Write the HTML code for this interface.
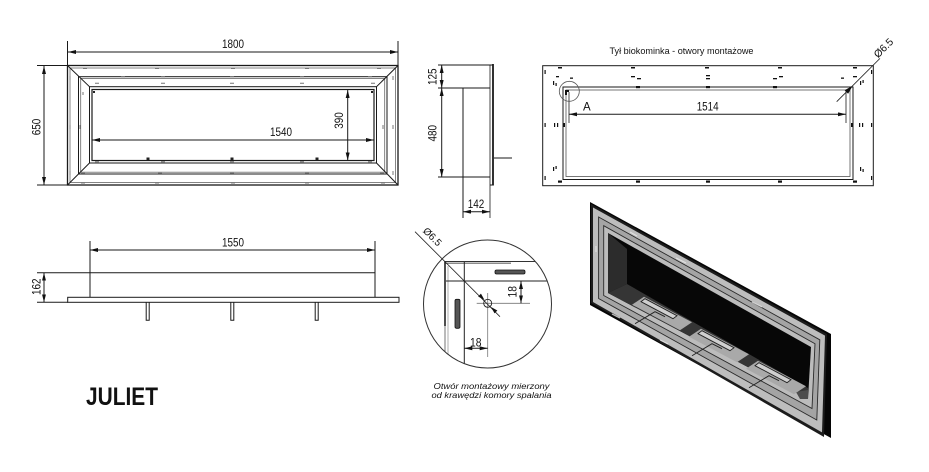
<!DOCTYPE html>
<html><head><meta charset="utf-8"><style>
html,body{margin:0;padding:0;background:#fff;}
svg{display:block;}
text{font-family:"Liberation Sans",sans-serif;fill:#111;}
</style></head><body>
<svg width="929" height="472" viewBox="0 0 929 472" xmlns="http://www.w3.org/2000/svg">
<defs>
<marker id="a" markerUnits="userSpaceOnUse" markerWidth="8" markerHeight="4" refX="8" refY="2" orient="auto-start-reverse" viewBox="0 0 8 4"><path d="M0,0L8,2L0,4z" fill="#111"/></marker>
<clipPath id="cc"><circle cx="487.5" cy="304" r="64"/></clipPath>
</defs>
<rect width="929" height="472" fill="#fff"/>

<!-- ===== FRONT VIEW ===== -->
<g stroke="#1a1a1a" fill="none" stroke-width="1">
 <line x1="67.5" y1="41" x2="67.5" y2="65"/>
 <line x1="398" y1="41" x2="398" y2="65"/>
 <line x1="68" y1="52" x2="398" y2="52" marker-start="url(#a)" marker-end="url(#a)"/>
 <line x1="37" y1="65.5" x2="68" y2="65.5"/>
 <line x1="37" y1="185" x2="68" y2="185"/>
 <line x1="44" y1="66" x2="44" y2="185" marker-start="url(#a)" marker-end="url(#a)"/>
 <rect x="67.5" y="65.5" width="330.5" height="119.5" stroke-width="1.3"/>
 <rect x="70" y="68" width="325.5" height="114.5" stroke="#666" stroke-width="0.8"/>
 <rect x="78.5" y="76.7" width="308.5" height="97.3"/>
 <rect x="80.7" y="78.5" width="304" height="93.7" stroke="#666" stroke-width="0.8"/>
 <rect x="89.5" y="86.7" width="287" height="76.3"/>
 <rect x="92" y="89.5" width="282" height="71" stroke-width="1.2"/>
 <line x1="67.5" y1="65.5" x2="89.5" y2="86.7"/>
 <line x1="398" y1="65.5" x2="376.5" y2="86.7"/>
 <line x1="67.5" y1="185" x2="89.5" y2="163"/>
 <line x1="398" y1="185" x2="376.5" y2="163"/>
 <line x1="347.7" y1="90" x2="347.7" y2="160.5" marker-start="url(#a)" marker-end="url(#a)"/>
 <line x1="92" y1="140" x2="374" y2="140" marker-start="url(#a)" marker-end="url(#a)"/>
</g>
<g stroke="#777" stroke-width="1">
 <path d="M83 68.5h4M155 68.5h4M231 68.5h4M305 68.5h4M377 68.5h4"/>
 <path d="M121 76.7h4M161 76.7h4M230 76.7h4M300 76.7h4M368 76.7h4"/>
 <path d="M95 83.3h4M161 83.3h4M230 83.3h4M300 83.3h4M371 83.3h4"/>
 <path d="M95 161.7h4M161 161.7h4M230 161.7h4M300 161.7h4M368 161.7h4"/>
 <path d="M81 173.3h4M158 173.3h4M230 173.3h4M305 173.3h4M380 173.3h4"/>
 <path d="M81 183h4M155 183h4M231 183h4M305 183h4M381 183h4"/>
 <path d="M70 76v4M70 125v4M70 171v4M80 125v4M83 92v3M383 125v4M393 125v4M393 76v4M393 171v4"/>
</g>
<g fill="#222"><rect x="146.5" y="157.5" width="3" height="2.5"/><rect x="230.5" y="157.5" width="3" height="2.5"/><rect x="315.5" y="157.5" width="3" height="2.5"/><rect x="93" y="91" width="2" height="2"/><rect x="371" y="91" width="2" height="2"/></g>
<text x="233" y="48" font-size="11.5" text-anchor="middle" textLength="22" lengthAdjust="spacingAndGlyphs">1800</text>
<text x="281" y="136" font-size="11.5" text-anchor="middle" textLength="22" lengthAdjust="spacingAndGlyphs">1540</text>
<text x="40.5" y="127" font-size="11.5" text-anchor="middle" transform="rotate(-90 40.5 127)" textLength="16.5" lengthAdjust="spacingAndGlyphs">650</text>
<text x="343" y="120.5" font-size="11.5" text-anchor="middle" transform="rotate(-90 343 120.5)" textLength="16.5" lengthAdjust="spacingAndGlyphs">390</text>

<!-- ===== SIDE VIEW ===== -->
<g stroke="#1a1a1a" fill="none" stroke-width="1">
 <line x1="438" y1="65" x2="493" y2="65"/>
 <line x1="438" y1="88" x2="490" y2="88"/>
 <line x1="438" y1="177" x2="490" y2="177"/>
 <line x1="441.7" y1="65" x2="441.7" y2="88" marker-start="url(#a)" marker-end="url(#a)"/>
 <line x1="441.7" y1="88" x2="441.7" y2="177" marker-start="url(#a)" marker-end="url(#a)"/>
 <line x1="463" y1="88" x2="463" y2="218"/>
 <line x1="490" y1="65" x2="490" y2="218" stroke-width="0.8"/>
 <line x1="493" y1="64" x2="493" y2="185.5" stroke-width="1.8"/>
 <line x1="490" y1="185" x2="493" y2="185"/>
 <line x1="494" y1="158" x2="512" y2="158"/>
 <line x1="463" y1="211.7" x2="490" y2="211.7" marker-start="url(#a)" marker-end="url(#a)"/>
</g>
<text x="436.5" y="76.7" font-size="11.5" text-anchor="middle" transform="rotate(-90 436.5 76.7)" textLength="16.5" lengthAdjust="spacingAndGlyphs">125</text>
<text x="436.5" y="133.3" font-size="11.5" text-anchor="middle" transform="rotate(-90 436.5 133.3)" textLength="16.5" lengthAdjust="spacingAndGlyphs">480</text>
<text x="476" y="208" font-size="11.5" text-anchor="middle" textLength="16.5" lengthAdjust="spacingAndGlyphs">142</text>

<!-- ===== REAR VIEW ===== -->
<text x="681.5" y="54" font-size="9" text-anchor="middle" textLength="144" lengthAdjust="spacingAndGlyphs">Tył biokominka - otwory montażowe</text>
<g stroke="#1a1a1a" fill="none" stroke-width="1">
 <rect x="542.7" y="65.7" width="330.6" height="120"/>
 <rect x="563" y="87" width="290" height="92.5"/>
 <rect x="566" y="90" width="284" height="86.5" stroke="#555" stroke-width="0.8"/>
 <line x1="569" y1="92" x2="569" y2="123" stroke-width="0.8"/>
 <line x1="846" y1="91" x2="846" y2="123" stroke-width="0.8"/>
 <line x1="569" y1="114.3" x2="846" y2="114.3" marker-start="url(#a)" marker-end="url(#a)"/>
 <circle cx="569.3" cy="91.3" r="10" stroke="#555" stroke-width="0.8"/>
 <line x1="836.7" y1="101.7" x2="880" y2="58.4" stroke-width="0.8"/>
</g>
<polygon points="852.7,85.7 848.1,93.8 844.6,90.3" fill="#111"/>
<g fill="#111">
 <rect x="558" y="67" width="4" height="1.5"/><rect x="631" y="67" width="4" height="1.5"/><rect x="705" y="67" width="4" height="1.5"/><rect x="778" y="67" width="4" height="1.5"/><rect x="853" y="67" width="4" height="1.5"/>
 <rect x="556" y="76" width="3" height="1.3"/><rect x="570" y="77.5" width="3" height="1.3"/><rect x="631" y="76" width="4" height="1.3"/><rect x="637" y="78" width="4" height="1.3"/><rect x="706" y="75" width="4" height="1.3"/><rect x="706" y="78" width="4" height="1.3"/><rect x="773" y="78" width="4" height="1.3"/><rect x="779" y="76" width="4" height="1.3"/><rect x="841" y="77.5" width="3" height="1.3"/><rect x="853" y="76" width="4" height="1.3"/>
 <rect x="636" y="86" width="4" height="2.2"/><rect x="706" y="86" width="4" height="2.2"/><rect x="773" y="86" width="4" height="2.2"/>
 <rect x="558" y="180.5" width="4" height="2.2"/><rect x="636" y="180.5" width="4" height="2.2"/><rect x="706" y="180.5" width="4" height="2.2"/><rect x="778" y="180.5" width="4" height="2.2"/><rect x="853" y="180.5" width="4" height="2.2"/>
 <rect x="544.5" y="70" width="1.2" height="4"/><rect x="544.5" y="123" width="1.2" height="4"/><rect x="544.5" y="176" width="1.2" height="4"/>
 <rect x="553" y="81" width="1.2" height="4"/><rect x="555.5" y="83" width="1.2" height="3"/><rect x="554" y="123" width="1.2" height="4"/><rect x="557" y="123" width="1.2" height="4"/><rect x="553" y="167" width="1.2" height="4"/><rect x="555.5" y="166" width="1.2" height="3"/>
 <rect x="871" y="70" width="1.2" height="4"/><rect x="871" y="123" width="1.2" height="4"/><rect x="871" y="176" width="1.2" height="4"/>
 <rect x="860" y="81" width="1.2" height="4"/><rect x="862.5" y="80" width="1.2" height="3"/><rect x="859" y="123" width="1.2" height="4"/><rect x="862" y="123" width="1.2" height="4"/><rect x="860" y="167" width="1.2" height="4"/><rect x="862.5" y="169" width="1.2" height="3"/>
 <rect x="563.5" y="123" width="1.5" height="4"/><rect x="851" y="123" width="1.5" height="4"/><rect x="565" y="90" width="4" height="2"/><rect x="565" y="90" width="2" height="5"/>
</g>
<text x="583" y="110.3" font-size="11.5">A</text>
<text x="707.7" y="110.5" font-size="11.5" text-anchor="middle" textLength="22" lengthAdjust="spacingAndGlyphs">1514</text>
<text x="886" y="50.5" font-size="10.5" text-anchor="middle" transform="rotate(-45 886 50.5)">Ø6.5</text>

<!-- ===== TOP VIEW ===== -->
<g stroke="#1a1a1a" fill="none" stroke-width="1">
 <line x1="90" y1="241" x2="90" y2="297"/>
 <line x1="375" y1="241" x2="375" y2="297"/>
 <line x1="90" y1="250" x2="375" y2="250" marker-start="url(#a)" marker-end="url(#a)"/>
 <line x1="37" y1="272.7" x2="375" y2="272.7"/>
 <line x1="37" y1="302.3" x2="68" y2="302.3"/>
 <line x1="44" y1="272.7" x2="44" y2="302.3" marker-start="url(#a)" marker-end="url(#a)"/>
 <rect x="67.7" y="297.3" width="331.3" height="5"/>
 <path d="M146.2 302.3v18h3v-18M230.8 302.3v18h3v-18M315.2 302.3v18h3v-18"/>
</g>
<text x="233" y="246.5" font-size="11.5" text-anchor="middle" textLength="22" lengthAdjust="spacingAndGlyphs">1550</text>
<text x="40.5" y="286.7" font-size="11.5" text-anchor="middle" transform="rotate(-90 40.5 286.7)" textLength="16.5" lengthAdjust="spacingAndGlyphs">162</text>

<!-- ===== DETAIL A ===== -->
<g clip-path="url(#cc)" fill="none">
 <line x1="444.5" y1="261.5" x2="552" y2="261.5" stroke="#333" stroke-width="1"/>
 <line x1="444.5" y1="263.2" x2="511" y2="263.2" stroke="#666" stroke-width="1.2"/>
 <line x1="445" y1="261.5" x2="445" y2="326" stroke="#222" stroke-width="1.6"/>
 <line x1="445" y1="326" x2="445" y2="372" stroke="#666" stroke-width="0.9"/>
 <line x1="448" y1="266" x2="448" y2="372" stroke="#999" stroke-width="0.8"/>
 <line x1="446" y1="281" x2="552" y2="281" stroke="#222" stroke-width="1"/>
 <line x1="464.3" y1="262" x2="464.3" y2="372" stroke="#222" stroke-width="1"/>
</g>
<g fill="none">
 <line x1="476.7" y1="303.3" x2="530" y2="303.3" stroke="#777" stroke-width="0.8"/>
 <line x1="487.7" y1="293" x2="487.7" y2="357" stroke="#777" stroke-width="0.8"/>
 <circle cx="487.7" cy="303.3" r="4" stroke="#222" stroke-width="0.9"/>
 <circle cx="487.5" cy="304" r="64" stroke="#333" stroke-width="1"/>
 <line x1="415" y1="231.7" x2="500" y2="316.7" stroke="#222" stroke-width="0.8"/>
 <line x1="521" y1="281" x2="521" y2="303.3" stroke="#1a1a1a" marker-start="url(#a)" marker-end="url(#a)"/>
 <line x1="464.3" y1="348.3" x2="487.7" y2="348.3" stroke="#1a1a1a" marker-start="url(#a)" marker-end="url(#a)"/>
</g>
<rect x="495" y="270" width="30" height="4" rx="1.5" fill="#555" stroke="#111" stroke-width="0.8"/>
<rect x="455" y="299.3" width="5" height="29" rx="1.5" fill="#555" stroke="#111" stroke-width="0.8"/>
<polygon points="484.5,300 478.14,296.46 480.96,293.64" fill="#111"/>
<polygon points="491,307 494.54,313.36 497.36,310.54" fill="#111"/>
<text x="516.7" y="291.7" font-size="11.5" text-anchor="middle" transform="rotate(-90 516.7 291.7)" textLength="11.5" lengthAdjust="spacingAndGlyphs">18</text>
<text x="475.8" y="346.5" font-size="11.5" text-anchor="middle" textLength="11.5" lengthAdjust="spacingAndGlyphs">18</text>
<text x="430" y="239.2" font-size="10" text-anchor="middle" transform="rotate(45 430 239.2)">Ø6.5</text>
<text x="491.5" y="389" font-size="8.6" font-style="italic" text-anchor="middle" textLength="116" lengthAdjust="spacingAndGlyphs">Otwór montażowy mierzony</text>
<text x="491.5" y="397.8" font-size="8.6" font-style="italic" text-anchor="middle" textLength="120" lengthAdjust="spacingAndGlyphs">od krawędzi komory spalania</text>

<!-- ===== JULIET ===== -->
<text x="86" y="405" font-size="25" font-weight="bold" textLength="72" lengthAdjust="spacingAndGlyphs">JULIET</text>

<!-- ===== ISOMETRIC ===== -->
<polygon points="590,202 831,334 831,438 590,305" fill="#050505"/>
<polygon points="591,204 827,334 824,437 591,303" fill="#1c1c1c"/>
<polygon points="593,207.5 825,335.6 822,432.4 593,302" fill="#bdbdbd"/>
<polygon points="598.6,217 819.8,339.8 816.8,420 598.6,298.5" fill="#a4a4a4" stroke="#2a2a2a" stroke-width="0.9"/>
<polygon points="603.7,225.7 815,343.7 812,408.5 603.7,295.5" fill="#bcbcbc" stroke="#2a2a2a" stroke-width="0.9"/>
<polygon points="608,233 811,347 808,399 608,293" fill="#070707"/>
<polygon points="608,233 627,249 627,284 608,293" fill="#2c2c2c"/>
<polygon points="608,293 627,284 808,388 808,399" fill="#353535"/>
<polygon points="796,392 808,390 808,399 800,399" fill="#4d4d4d"/>
<g stroke="#222" stroke-width="0.9">
 <polygon points="632,304.7 680,330.2 692,322.2 644,296.7" fill="#a9a9a9" stroke="none"/>
 <polygon points="689,336.7 737,362.2 749,354.2 701,328.7" fill="#a9a9a9" stroke="none"/>
 <polygon points="746,368.7 794,394.2 806,386.2 758,360.7" fill="#a9a9a9" stroke="none"/>
 <polygon points="641,301.7 673,318.7 677,315.7 645,298.7" fill="#cfcfcf"/>
 <polygon points="698,333.7 730,350.7 734,347.7 702,330.7" fill="#cfcfcf"/>
 <polygon points="755,365.7 787,382.7 791,379.7 759,362.7" fill="#cfcfcf"/>
 <path d="M635 323.7L655 311.7l10 5" fill="none"/>
 <path d="M692 355.7L712 343.7l10 5" fill="none"/>
 <path d="M749 387.7L769 375.7l10 5" fill="none"/>
</g>
<g stroke="#eaeaea" stroke-width="1.2" opacity="0.8">
 <line x1="630" y1="232" x2="637" y2="236"/>
 <line x1="676" y1="258" x2="686" y2="263"/>
 <line x1="752" y1="302" x2="762" y2="307"/>
 <line x1="596" y1="246" x2="596" y2="252"/>
 <line x1="612" y1="314" x2="620" y2="318"/>
 <line x1="660" y1="340" x2="668" y2="344"/>
</g>
</svg>
</body></html>
